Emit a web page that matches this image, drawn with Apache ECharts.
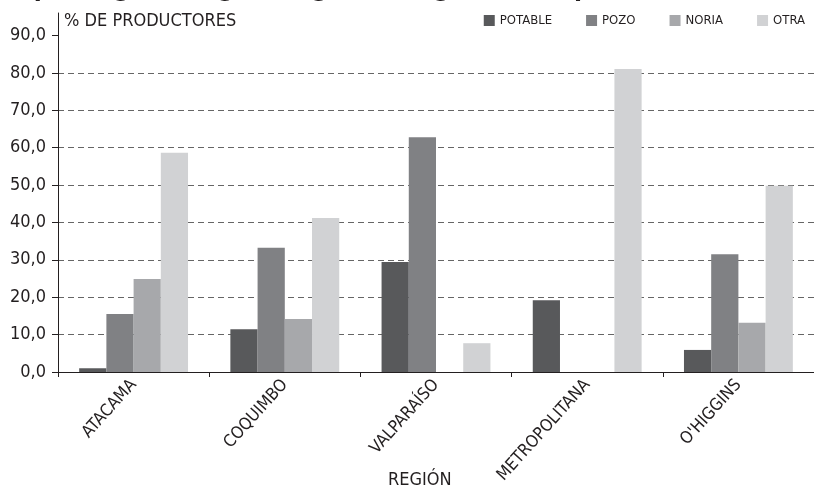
<!DOCTYPE html>
<html>
<head>
<meta charset="utf-8">
<script src="https://cdn.jsdelivr.net/npm/echarts@6/dist/echarts.min.js"></script>
<style>html,body{margin:0;padding:0;background:#fff}#c{width:814px;height:490px}</style>
</head>
<body>
<div id="c"></div>
<script>
const categories = ['ATACAMA', 'COQUIMBO', 'VALPARAÍSO', 'METROPOLITANA', "O'HIGGINS"];
const potable = [1.0, 11.4, 29.4, 19.2, 5.9];
const pozo = [15.5, 33.2, 62.8, 0, 31.5];
const noria = [24.9, 14.2, 0, 0, 13.2];
const otra = [58.6, 41.2, 7.7, 81.0, 49.8];
const yTicks = [0, 10, 20, 30, 40, 50, 60, 70, 80, 90];

const FONT = "'Liberation Sans Narrow', 'DejaVu Sans Condensed', 'Liberation Sans', sans-serif";
const chart = echarts.init(document.getElementById('c'), null, {renderer: 'canvas'});
const mk = (name, data, color) => ({
  name, type: 'bar', data, barGap: '0%', barCategoryGap: '28%',
  itemStyle: {color}, emphasis: {disabled: true}
});
chart.setOption({
  animation: false,
  backgroundColor: '#fff',
  textStyle: {fontFamily: FONT},
  title: [
    {text: 'Productores por región, según origen del agua (% de productores)', right: 64, top: -30,
     textStyle: {fontFamily: FONT, fontWeight: 'bold', fontSize: 26, color: '#231f20'}},
    {text: 'REGIÓN', left: 383, top: 466,
     textStyle: {fontFamily: FONT, fontWeight: 'normal', fontSize: 18, color: '#231f20'}}
  ],
  legend: {
    right: 4, top: 9, itemWidth: 11, itemHeight: 11, itemGap: 34,
    icon: 'rect',
    textStyle: {fontFamily: FONT, fontSize: 13, color: '#231f20'},
    data: ['POTABLE', 'POZO', 'NORIA', 'OTRA']
  },
  grid: {left: 58, right: -9, top: 13, bottom: 118, containLabel: false},
  xAxis: {
    type: 'category', data: categories,
    axisLine: {lineStyle: {color: '#231f20', width: 1}},
    axisTick: {show: true, length: 5, lineStyle: {color: '#231f20'}},
    axisLabel: {rotate: 48, margin: 10, fontSize: 17, color: '#231f20', fontFamily: FONT, interval: 0}
  },
  yAxis: {
    type: 'value', min: 0, max: 96, interval: 10,
    name: '% DE PRODUCTORES', nameLocation: 'end', nameGap: -8,
    nameTextStyle: {align: 'left', verticalAlign: 'middle', fontSize: 18, color: '#231f20', fontFamily: FONT, padding: [0, 0, 0, 6]},
    axisLine: {show: true, lineStyle: {color: '#231f20', width: 1}},
    axisTick: {show: true, length: 6, customValues: yTicks, lineStyle: {color: '#231f20'}},
    axisLabel: {customValues: yTicks, fontSize: 18, color: '#231f20', fontFamily: FONT, margin: 12,
      formatter: v => v.toFixed(1).replace('.', ',')},
    splitLine: {show: true, showMaxLine: false, lineStyle: {color: '#666', type: [6, 4], width: 1}}
  },
  series: [
    mk('POTABLE', potable, '#58595b'),
    mk('POZO', pozo, '#808184'),
    mk('NORIA', noria, '#a7a8ab'),
    mk('OTRA', otra, '#d1d2d4')
  ]
});
</script>
</body>
</html>
